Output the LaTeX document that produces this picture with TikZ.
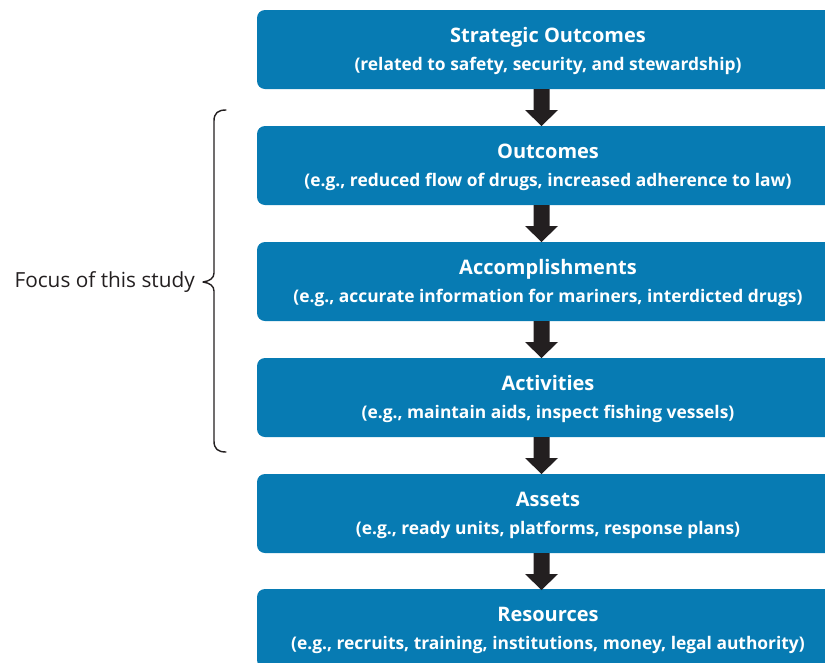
\documentclass[tikz,border=0pt]{standalone}
\usepackage{fontspec}
\setmainfont{Open Sans}
\definecolor{boxblue}{HTML}{077BB3}
\definecolor{arrowdark}{HTML}{231F20}
\begin{document}
\begin{tikzpicture}[x=1pt,y=-1pt,
  stage/.style={fill=boxblue, rounded corners=8pt, draw=none},
  heading/.style={text=white, font=\bfseries\fontsize{20}{24}\selectfont, anchor=base, inner sep=0pt},
  detail/.style={text=white, font=\bfseries\fontsize{17.4}{20}\selectfont, anchor=base, inner sep=0pt},
  flow/.style={fill=arrowdark, draw=none}]
\useasboundingbox (0,0) rectangle (825,662);
\begin{scope}
\clip (0,0) rectangle (825,662);
% stages, top to bottom
\foreach \name/\top/\head/\sub in {
  so/10/Strategic Outcomes/{(related to safety, security, and stewardship)},
  oc/126/Outcomes/{(e.g., reduced flow of drugs, increased adherence to law)},
  ac/242/Accomplishments/{(e.g., accurate information for mariners, interdicted drugs)},
  av/358/Activities/{(e.g., maintain aids, inspect fishing vessels)},
  as/474/Assets/{(e.g., ready units, platforms, response plans)},
  rs/589/Resources/{(e.g., recruits, training, institutions, money, legal authority)}} {
  \path[stage] (257,\top) rectangle (840,\top+79);
  \node[heading] (\name-h) at (548,\top+32) {\head};
  \node[detail] (\name-d) at (548,\top+60) {\sub};
}
% block arrows between stages
\foreach \top in {89,205,321,437,553} {
  \path[flow] (533.5,\top) -- (549.5,\top) -- (549.5,\top+21) -- (558,\top+21)
    -- (541.5,\top+37) -- (525,\top+21) -- (533.5,\top+21) -- cycle;
}
\end{scope}
% brace around the studied stages
\draw[arrowdark, line width=1.4pt, line cap=round, line join=round]
  (226,110) .. controls (218,110) and (214,113) .. (214,121)
  -- (214,273) .. controls (214,278) and (210,281) .. (203,282)
  .. controls (210,283) and (214,286) .. (214,291)
  -- (214,441) .. controls (214,449) and (218,452) .. (226,452);
\node[anchor=east, inner sep=0pt, font=\fontsize{20.8}{24}\selectfont, text=arrowdark] (focus) at (195,282) {Focus of this study};
\end{tikzpicture}
\end{document}
